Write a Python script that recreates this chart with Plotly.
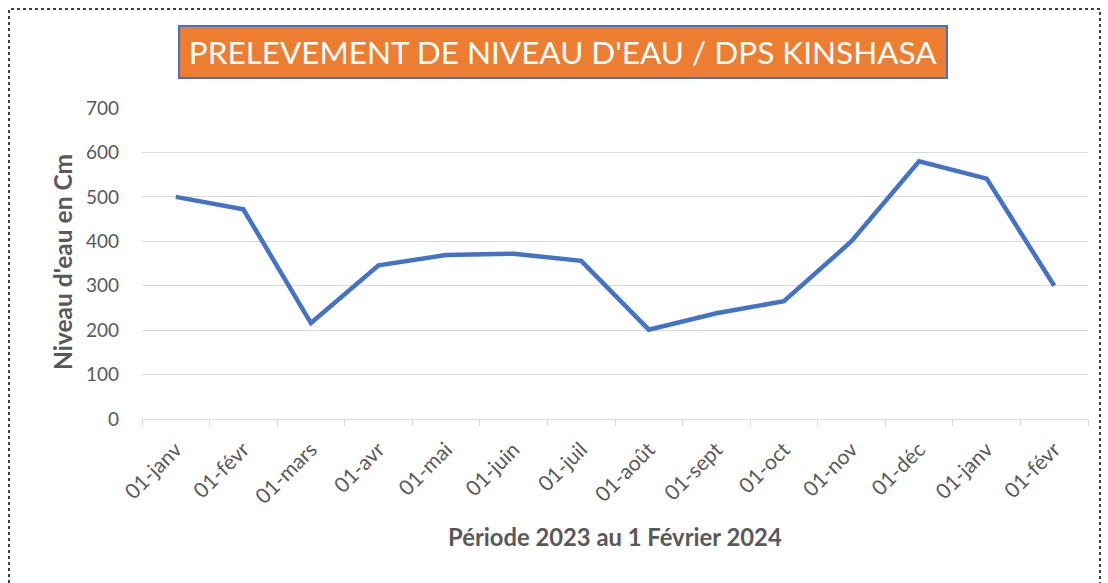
import plotly.graph_objects as go

# ---- data ----
labels = ["01-janv", "01-févr", "01-mars", "01-avr", "01-mai", "01-juin", "01-juil",
          "01-août", "01-sept", "01-oct", "01-nov", "01-déc", "01-janv", "01-févr"]
niveau_cm = [500, 472, 216, 346, 369, 372, 356, 201, 238, 265, 400, 580, 541, 300]
y_ticks = [0, 100, 200, 300, 400, 500, 600, 700]

title_text = "PRELEVEMENT DE NIVEAU D'EAU / DPS KINSHASA"
x_title = "Période 2023 au 1 Février 2024"
y_title = "Niveau d'eau en Cm"

# ---- layout geometry (pixels) ----
W, H = 1108, 583
L, R, T, B = 142, 20, 108, 164
pw, ph = W - L - R, H - T - B

def px(x):
    return (x - L) / pw

def py(y):
    return (H - B - y) / ph

FONT = "Lato"
GREY = "#595959"
GRID = "#D9D9D9"

x_idx = list(range(len(labels)))

fig = go.Figure()
fig.add_trace(go.Scatter(
    x=x_idx, y=niveau_cm, mode="lines",
    line=dict(color="#4472C4", width=4.5),
    hoverinfo="skip", showlegend=False,
))

fig.update_layout(
    width=W, height=H,
    margin=dict(l=L, r=R, t=T, b=B, autoexpand=False),
    paper_bgcolor="white", plot_bgcolor="white",
    font=dict(family=FONT, color=GREY),
    showlegend=False,
)

fig.update_xaxes(
    range=[-0.5, len(labels) - 0.5],
    tickmode="array", tickvals=x_idx, ticktext=labels,
    tickangle=-45, tickfont=dict(size=21, color=GREY, family=FONT),
    ticks="", ticklabelstandoff=9,
    showgrid=False, zeroline=False,
    showline=True, linecolor=GRID, linewidth=1,
    minor=dict(tickvals=[i - 0.5 for i in range(len(labels) + 1)],
               ticks="outside", ticklen=6, tickcolor=GRID, tickwidth=1,
               showgrid=False),
    automargin=False,
)

fig.update_yaxes(
    range=[0, 700], tickmode="array", tickvals=y_ticks,
    tickfont=dict(size=19, color=GREY, family=FONT),
    ticks="", ticklabelstandoff=22,
    showgrid=True, gridcolor=GRID, gridwidth=1,
    zeroline=False, showline=False,
    automargin=False,
)

annotations = [
    dict(text=title_text, xref="paper", yref="paper",
         x=px(563), y=py(52), xanchor="center", yanchor="middle",
         showarrow=False, font=dict(size=31.5, color="white", family=FONT),
         bgcolor="#ED7D31", bordercolor="#4472C4", borderwidth=2, borderpad=1,
         width=764, height=48),
    dict(text="<b>" + x_title + "</b>", xref="paper", yref="paper",
         x=px(615), y=py(537), xanchor="center", yanchor="middle",
         showarrow=False, font=dict(size=23.8, color=GREY, family=FONT)),
    dict(text="<b>" + y_title + "</b>", xref="paper", yref="paper",
         x=px(62), y=py(262), xanchor="center", yanchor="middle", textangle=-90,
         showarrow=False, font=dict(size=24.5, color=GREY, family=FONT)),
]
fig.update_layout(annotations=annotations)

fig.add_shape(type="rect", xref="paper", yref="paper",
              x0=px(9), x1=px(1100), y0=py(592), y1=py(9),
              line=dict(color="black", width=1.5, dash="dot"),
              fillcolor="rgba(0,0,0,0)", layer="above")

fig.write_html("out.html", config={"displayModeBar": False},
               post_script="document.body.style.margin='0';")
